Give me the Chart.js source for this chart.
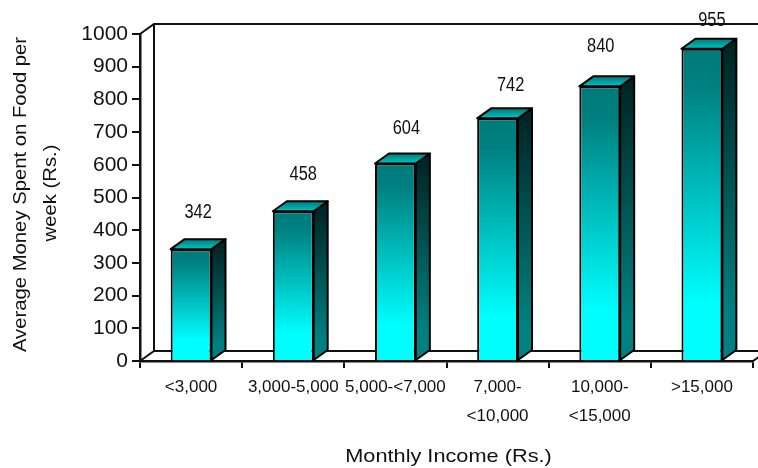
<!DOCTYPE html>
<html>
<head>
<meta charset="utf-8">
<style>
  html, body { margin: 0; padding: 0; background: #fff; }
  #wrap { width: 758px; height: 468px; }
</style>
<script src="https://cdn.jsdelivr.net/npm/chart.js@4/dist/chart.umd.min.js"></script>
</head>
<body>
<div id="wrap"><canvas id="chart" width="758" height="468"></canvas></div>
<script>
const incomeBands = ['<3,000', '3,000-5,000', '5,000-<7,000', ['7,000-', '<10,000'], ['10,000-', '<15,000'], '>15,000']
const foodSpend = [342, 458, 604, 742, 840, 955]
const yMin = 0
const yMax = 1000
const yStep = 100
const xTitle = 'Monthly Income (Rs.)'
const yTitle = ['Average Money Spent on Food per', 'week (Rs.)']

// hand placement of the value captions, relative to the top of each bar
const captionDx = [7, 10, 11, 13, 1, 10]
const captionDy = [37, 37, 35, 33, 40, 28]

const INK = '#111'
const DEPTH_X = 14
const DEPTH_Y = 10

function frontFill(ctx) {
  const chart = ctx.chart
  if (!chart.chartArea || ctx.raw === undefined) return '#008080'
  const top = chart.scales.y.getPixelForValue(ctx.raw)
  const bottom = chart.scales.y.getPixelForValue(0)
  const g = chart.ctx.createLinearGradient(0, top, 0, bottom)
  g.addColorStop(0, '#007a7a')
  g.addColorStop(0.12, '#008080')
  g.addColorStop(0.82, '#00ffff')
  g.addColorStop(1, '#00ffff')
  return g
}

// stretched or squeezed text, for the wide axis titles and narrow captions
function putText(ctx, text, x, y, font, stretch, angle) {
  ctx.save()
  ctx.translate(x, y)
  if (angle) ctx.rotate(angle)
  ctx.scale(stretch, 1)
  ctx.font = font
  ctx.fillStyle = INK
  ctx.textAlign = 'center'
  ctx.textBaseline = 'middle'
  ctx.fillText(text, 0, 0)
  ctx.restore()
}

// back wall and floor behind the bars
const wallPlugin = {
  id: 'wall',
  beforeDatasetsDraw(chart) {
    const { ctx, chartArea: a, width } = chart
    ctx.save()
    ctx.strokeStyle = INK
    ctx.lineWidth = 2
    ctx.beginPath()
    ctx.moveTo(a.left, a.top)
    ctx.lineTo(a.left + DEPTH_X, a.top - DEPTH_Y)
    ctx.lineTo(width, a.top - DEPTH_Y)
    ctx.moveTo(a.left + DEPTH_X, a.top - DEPTH_Y)
    ctx.lineTo(a.left + DEPTH_X, a.bottom - DEPTH_Y)
    ctx.lineTo(width, a.bottom - DEPTH_Y)
    ctx.moveTo(a.left, a.bottom)
    ctx.lineTo(a.left + DEPTH_X, a.bottom - DEPTH_Y)
    ctx.moveTo(a.right, a.bottom)
    ctx.lineTo(a.right + 7, a.bottom - 5)
    ctx.stroke()
    ctx.restore()
  }
}

// side and top faces of each bar, then captions and axis titles
const blockPlugin = {
  id: 'block',
  afterDatasetsDraw(chart) {
    const { ctx, chartArea: a } = chart
    const bars = chart.getDatasetMeta(0).data
    ctx.save()
    ctx.strokeStyle = '#000'
    ctx.lineWidth = 2
    ctx.lineJoin = 'round'
    bars.forEach(bar => {
      const right = bar.x + bar.width / 2
      const left = bar.x - bar.width / 2
      const top = bar.y
      const bottom = bar.base

      const side = ctx.createLinearGradient(0, top, 0, bottom)
      side.addColorStop(0, '#002626')
      side.addColorStop(0.85, '#008080')
      side.addColorStop(1, '#008080')
      ctx.fillStyle = side
      ctx.beginPath()
      ctx.moveTo(right, top)
      ctx.lineTo(right + DEPTH_X, top - DEPTH_Y)
      ctx.lineTo(right + DEPTH_X, bottom - DEPTH_Y)
      ctx.lineTo(right, bottom)
      ctx.closePath()
      ctx.fill()
      ctx.stroke()

      const lid = ctx.createLinearGradient(0, top - DEPTH_Y, 0, top)
      lid.addColorStop(0, '#007a7a')
      lid.addColorStop(1, '#00c4c4')
      ctx.fillStyle = lid
      ctx.beginPath()
      ctx.moveTo(left, top)
      ctx.lineTo(left + DEPTH_X, top - DEPTH_Y)
      ctx.lineTo(right + DEPTH_X, top - DEPTH_Y)
      ctx.lineTo(right, top)
      ctx.closePath()
      ctx.fill()
      ctx.stroke()
    })
    ctx.restore()

    bars.forEach((bar, i) => {
      putText(ctx, String(foodSpend[i]), bar.x + captionDx[i], bar.y - captionDy[i],
        '20px "Liberation Sans"', 0.82)
    })

    const titleFont = '19px "Liberation Sans"'
    putText(ctx, xTitle, (a.left + a.right) / 2 + 2, 457, titleFont, 1.144)
    putText(ctx, yTitle[0], 21, 194.5, titleFont, 1.067, -Math.PI / 2)
    putText(ctx, yTitle[1], 51, 193, titleFont, 1.067, -Math.PI / 2)
  }
}

new Chart(document.getElementById('chart'), {
  type: 'bar',
  data: {
    labels: incomeBands,
    datasets: [{
      data: foodSpend,
      backgroundColor: frontFill,
      borderColor: '#000',
      borderWidth: 2,
      barPercentage: 0.4,
      categoryPercentage: 1
    }]
  },
  options: {
    responsive: false,
    animation: false,
    layout: { padding: { left: 5, right: 5, top: 34, bottom: 0 } },
    plugins: { legend: { display: false }, tooltip: { enabled: false } },
    scales: {
      x: {
        afterFit: s => { s.height = 107 },
        grid: { offset: true, drawOnChartArea: false, color: INK, lineWidth: 2, tickLength: 7 },
        border: { color: INK, width: 2.5 },
        ticks: {
          color: INK, maxRotation: 0, autoSkip: false, padding: 4,
          font: { family: '"Liberation Sans"', size: 17, lineHeight: 1.75 }
        }
      },
      y: {
        min: yMin,
        max: yMax,
        afterFit: s => { s.width = 135 },
        grid: { drawOnChartArea: false, color: INK, lineWidth: 2, tickLength: 8 },
        border: { color: INK, width: 2.5 },
        ticks: {
          stepSize: yStep, color: INK, padding: 4,
          callback: v => String(v),
          font: { family: '"Liberation Sans"', size: 21 }
        }
      }
    }
  },
  plugins: [wallPlugin, blockPlugin]
})
</script>
</body>
</html>
